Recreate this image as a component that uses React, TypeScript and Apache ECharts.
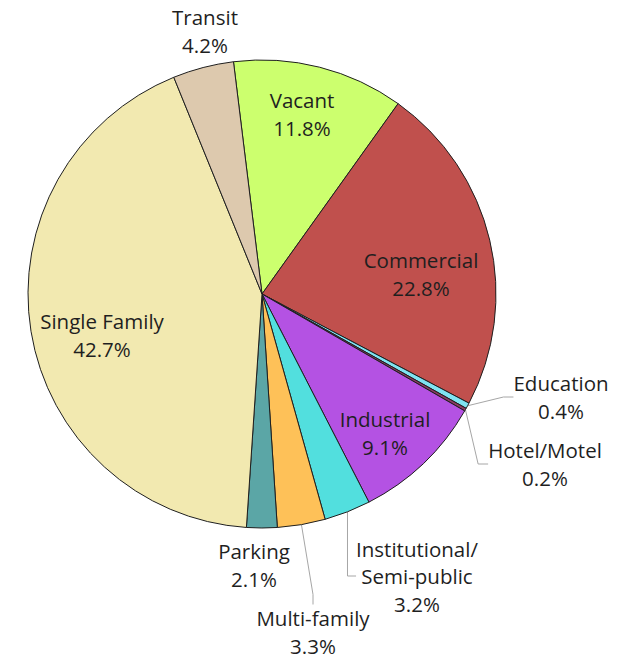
import React, { useEffect, useRef } from "react";
import * as echarts from "echarts";

const categories = [
  "Vacant",
  "Commercial",
  "Education",
  "Hotel/Motel",
  "Industrial",
  "Institutional/\nSemi-public",
  "Multi-family",
  "Parking",
  "Single Family",
  "Transit",
];
const values = [11.8, 22.8, 0.4, 0.2, 9.1, 3.2, 3.3, 2.1, 42.7, 4.2];
const colors = [
  "#CCFF6E",
  "#C0504D",
  "#7FE3F2",
  "#8B3A62",
  "#B452E3",
  "#52DFDE",
  "#FEC158",
  "#5BA6A6",
  "#F2E9B0",
  "#DDC9AE",
];
// label centres (x, y) and leader line visibility
const labelPos: [number, number][] = [
  [302, 114],
  [421, 274],
  [561, 397],
  [545, 464],
  [385, 433],
  [417, 576],
  [313, 632],
  [254, 565],
  [102, 335],
  [205, 31],
];
const showLine = [false, false, true, true, false, true, true, false, false, false];

export default function App() {
  const ref = useRef<HTMLDivElement>(null);
  useEffect(() => {
    if (!ref.current) return;
    const chart = echarts.init(ref.current, null, { renderer: "svg" });
    chart.setOption({
      animation: false,
      backgroundColor: "#ffffff",
      series: [
        {
          type: "pie",
          center: [262, 294],
          radius: [0, 234],
          startAngle: 97,
          clockwise: true,
          avoidLabelOverlap: false,
          itemStyle: { borderColor: "#1f1f1f", borderWidth: 1 },
          label: {
            show: true,
            position: "outside",
            formatter: (p: any) => `${p.name}\n${p.value.toFixed(1)}%`,
            fontFamily: "Open Sans",
            fontSize: 20.5,
            lineHeight: 27.5,
            color: "#1f1f1f",
            align: "center",
          },
          labelLine: {
            lineStyle: { color: "#A6A6A6", width: 1 },
            length: 10,
            length2: 10,
          },
          labelLayout: (params: any) => {
            const i = params.dataIndex;
            return {
              x: labelPos[i][0],
              y: labelPos[i][1],
              align: "center",
              verticalAlign: "middle",
            };
          },
          data: categories.map((name, i) => ({
            name,
            value: values[i],
            itemStyle: { color: colors[i] },
            labelLine: { show: showLine[i] },
          })),
        },
      ],
    });
    return () => chart.dispose();
  }, []);
  return (
    <div
      ref={ref}
      style={{ position: "fixed", left: 0, top: 0, width: 633, height: 661 }}
    />
  );
}
